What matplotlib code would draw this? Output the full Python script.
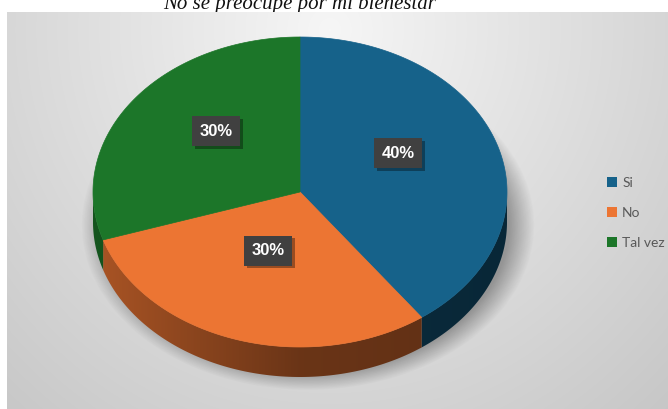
import numpy as np
import matplotlib.pyplot as plt
from matplotlib.patches import Polygon, Patch
from matplotlib import patheffects as pe

titulo = 'No se preocupe por mi bienestar'
categorias = ['Si', 'No', 'Tal vez']
valores = [40, 30, 30]
colores = ['#16628a', '#ec7533', '#1c7629']

W, H = 668, 409
fig = plt.figure(figsize=(W / 100, H / 100), dpi=100)
ax = fig.add_axes([0, 0, 1, 1])
ax.axis('off')

# fondo del area del grafico (degradado radial gris)
x0, y0, x1, y1 = 7, 12, 668, 409
xx, yy = np.meshgrid(np.arange(x0, x1) + 0.5, np.arange(y0, y1) + 0.5)
d = np.sqrt(((xx - 330) / 400) ** 2 + ((yy - 30) / 420) ** 2)
v = np.clip(0.965 - 0.15 * d, 0, 1)
ax.imshow(np.dstack([v, v, v]), extent=(x0, x1, y1, y0), aspect='auto', zorder=1)

# geometria de la torta 3D
cx, cy, rx, ry, prof = 300, 192, 207, 155, 30


def punto(t, dy=0.0):
    return cx + rx * np.sin(t), cy - ry * np.cos(t) + dy


# sombra bajo la torta
r = np.sqrt(((xx - 308) / 214) ** 2 + ((yy - (cy + prof + 3)) / (ry + 1)) ** 2)
alfa = 0.32 * np.clip((1.06 - r) / 0.12, 0, 1)
sombra = np.zeros(xx.shape + (4,))
sombra[..., 3] = alfa
ax.imshow(sombra, extent=(x0, x1, y1, y0), aspect='auto', zorder=1.5)

total = sum(valores)
fr = np.array(valores) / total
fin = np.cumsum(fr) * 2 * np.pi
ini = fin - fr * 2 * np.pi

# caras laterales visibles (mitad delantera)
gx, gy = np.meshgrid(np.linspace(cx - rx, cx + rx, 300), np.linspace(cy, cy + ry + prof, 60))
tono = np.interp(gx, [cx - rx, cx, cx + rx], [0.72, 0.45, 0.40])
for a, b, col in zip(ini, fin, colores):
    a2, b2 = max(a, np.pi / 2), min(b, 3 * np.pi / 2)
    if a2 >= b2:
        continue
    t = np.linspace(a2, b2, 120)
    arriba = np.column_stack(punto(t))
    abajo = np.column_stack(punto(t[::-1], prof))
    poly = Polygon(np.vstack([arriba, abajo]), closed=True, fc='none', ec='none', zorder=2)
    ax.add_patch(poly)
    base = np.array(plt.matplotlib.colors.to_rgb(col))
    img = np.clip(tono[..., None] * base, 0, 1)
    im = ax.imshow(img, extent=(cx - rx, cx + rx, cy + ry + prof, cy), aspect='auto', zorder=2)
    im.set_clip_path(poly)

# caras superiores
for a, b, col in zip(ini, fin, colores):
    t = np.linspace(a, b, 200)
    xs, ys = punto(t)
    pts = np.vstack([[cx, cy], np.column_stack([xs, ys])])
    ax.add_patch(Polygon(pts, closed=True, fc=col, ec=col, lw=0.5, zorder=3))

# etiquetas de porcentaje
for a, b, val in zip(ini, fin, valores):
    tm = (a + b) / 2
    lx, ly = punto(tm)
    lx = cx + 0.5 * (lx - cx)
    ly = cy + 0.5 * (ly - cy) - 15
    txt = ax.text(lx, ly, f'{round(100 * val / total)}%', ha='center', va='center',
                  color='white', fontsize=12, fontweight='bold', family='Liberation Sans',
                  zorder=5,
                  bbox=dict(boxstyle='square,pad=0.45', fc='#404040', ec='none'))
    txt.get_bbox_patch().set_path_effects([
        pe.SimplePatchShadow(offset=(2, -2), shadow_rgbFace='black', alpha=0.35),
        pe.Normal()])

# titulo (queda recortado por el borde superior y por el fondo)
ax.text(300, 9, titulo, ha='center', va='baseline', fontsize=15, style='italic',
        family='Liberation Serif', color='#111111', zorder=0.5)

handles = [Patch(fc=c, ec='none', label=n) for c, n in zip(colores, categorias)]
leg = ax.legend(handles=handles, loc='center left', bbox_to_anchor=(600 / W, 1 - 213 / H),
                frameon=False, labelspacing=1.3, handlelength=0.75,
                handleheight=0.75, handletextpad=0.35, borderpad=0,
                prop={'family': 'Lato', 'size': 10})
for t in leg.get_texts():
    t.set_color('#595959')

ax.set_xlim(0, W)
ax.set_ylim(H, 0)
fig.savefig('out.png', dpi=100, facecolor='white')
